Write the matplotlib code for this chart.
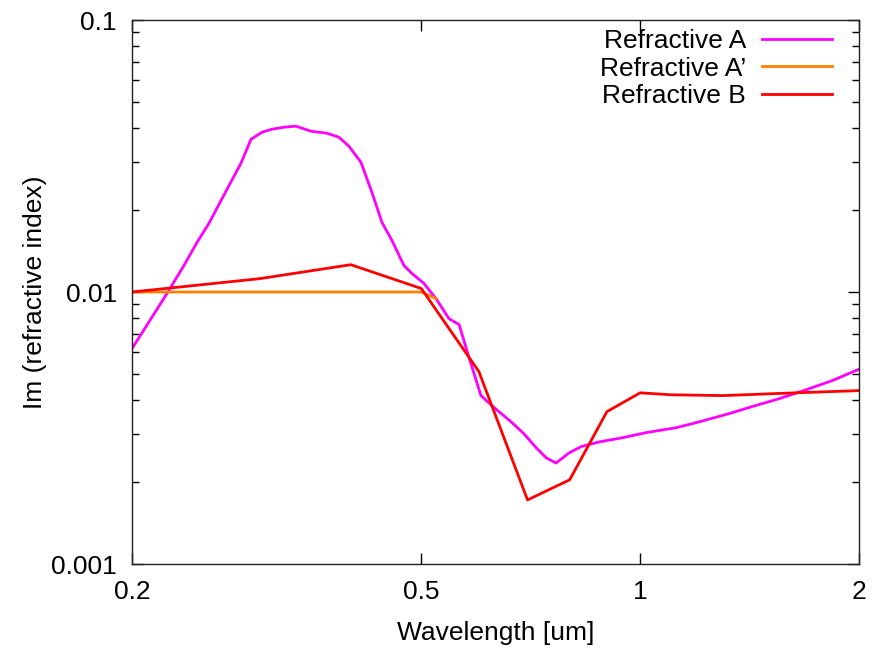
import matplotlib
matplotlib.use("Agg")
import matplotlib.pyplot as plt
from matplotlib.ticker import FixedLocator, NullFormatter, NullLocator, LogLocator

plt.rcParams['font.family'] = ['Liberation Sans', 'DejaVu Sans']

# Refractive A (magenta)
wl_a = [0.200, 0.2234, 0.2358, 0.2457, 0.2552, 0.2652, 0.2824, 0.2916, 0.3020,
        0.3116, 0.3238, 0.3362, 0.3526, 0.3708, 0.3852, 0.3976, 0.4130, 0.4276,
        0.4414, 0.4556, 0.4732, 0.4854, 0.5042, 0.5238, 0.5458, 0.5636, 0.5816,
        0.6040, 0.6254, 0.6664, 0.6922, 0.7190, 0.7422, 0.7660, 0.7982, 0.8292,
        0.8778, 0.9442, 1.0186, 1.1204, 1.205, 1.325, 1.425, 1.552, 1.691,
        1.836, 2.0]
im_a = [0.00619, 0.00987, 0.01252, 0.01521, 0.01788, 0.02173, 0.02973, 0.03645,
        0.03868, 0.03968, 0.04036, 0.04071, 0.03901, 0.03835, 0.03707, 0.03434,
        0.02999, 0.02325, 0.01803, 0.01547, 0.01252, 0.01170, 0.01075, 0.00946,
        0.00798, 0.00759, 0.00574, 0.00416, 0.00382, 0.00331, 0.00301, 0.00268,
        0.00246, 0.00235, 0.00256, 0.00270, 0.00281, 0.00291, 0.00304, 0.00317,
        0.00333, 0.00357, 0.00379, 0.00405, 0.00437, 0.00472, 0.00520]

# Refractive A' (orange)
wl_a2 = [0.2, 0.5, 0.5238]
im_a2 = [0.0100, 0.0100, 0.00946]

# Refractive B (red)
wl_b = [0.2, 0.3, 0.4, 0.5, 0.6, 0.7, 0.8, 0.9, 1.0, 1.1, 1.3, 1.6, 2.0]
im_b = [0.0100, 0.0112, 0.0126, 0.0103, 0.0051, 0.00172, 0.00204, 0.00363,
        0.00426, 0.00419, 0.00416, 0.00425, 0.00434]

labels = ["Refractive A", "Refractive A\u2019", "Refractive B"]
colors = ["#ff00ff", "#ff8000", "#ff0000"]

xticks = [0.2, 0.5, 1, 2]
xticklabels = ["0.2", "0.5", "1", "2"]
yticks = [0.001, 0.01, 0.1]
yticklabels = ["0.001", "0.01", "0.1"]

fig = plt.figure(figsize=(8.75, 6.48), dpi=100)
ax = fig.add_axes([132/875, 1-564/648, (859-132)/875, (564-20)/648])

lw = 2.0
ax.plot(wl_a, im_a, color=colors[0], lw=lw, label=labels[0])
ax.plot(wl_a2, im_a2, color=colors[1], lw=lw, label=labels[1])
ax.plot(wl_b, im_b, color=colors[2], lw=lw, label=labels[2])

ax.set_xscale('log')
ax.set_yscale('log')
ax.set_xlim(0.2, 2)
ax.set_ylim(0.001, 0.1)

fs = 19
ax.xaxis.set_major_locator(FixedLocator(xticks))
ax.set_xticklabels(xticklabels)
ax.xaxis.set_minor_locator(NullLocator())
ax.yaxis.set_major_locator(FixedLocator(yticks))
ax.set_yticklabels(yticklabels)
ax.yaxis.set_minor_locator(LogLocator(base=10, subs=range(2, 10)))
ax.yaxis.set_minor_formatter(NullFormatter())

ax.tick_params(which='both', direction='in', top=True, right=True,
               labelsize=fs, colors='black', width=1.0)
ax.tick_params(which='major', length=8)
ax.tick_params(which='minor', length=5)
ax.tick_params(axis='x', which='major', pad=11.5)
ax.tick_params(axis='y', which='major', pad=11)
for s in ax.spines.values():
    s.set_linewidth(1.0)
    s.set_color('#222222')

ax.set_xlabel("Wavelength [um]", fontsize=fs, labelpad=12)
ax.set_ylabel("Im (refractive index)", fontsize=fs, labelpad=3)

leg = ax.legend(loc='upper right', bbox_to_anchor=(832/875, 1-29/648),
                bbox_transform=fig.transFigure, frameon=False, markerfirst=False,
                fontsize=fs, handlelength=2.65, handletextpad=0.6,
                labelspacing=0.14, borderpad=0, borderaxespad=0)
for t in leg.get_texts():
    t.set_ha('right')

fig.savefig("out.png", dpi=100)
